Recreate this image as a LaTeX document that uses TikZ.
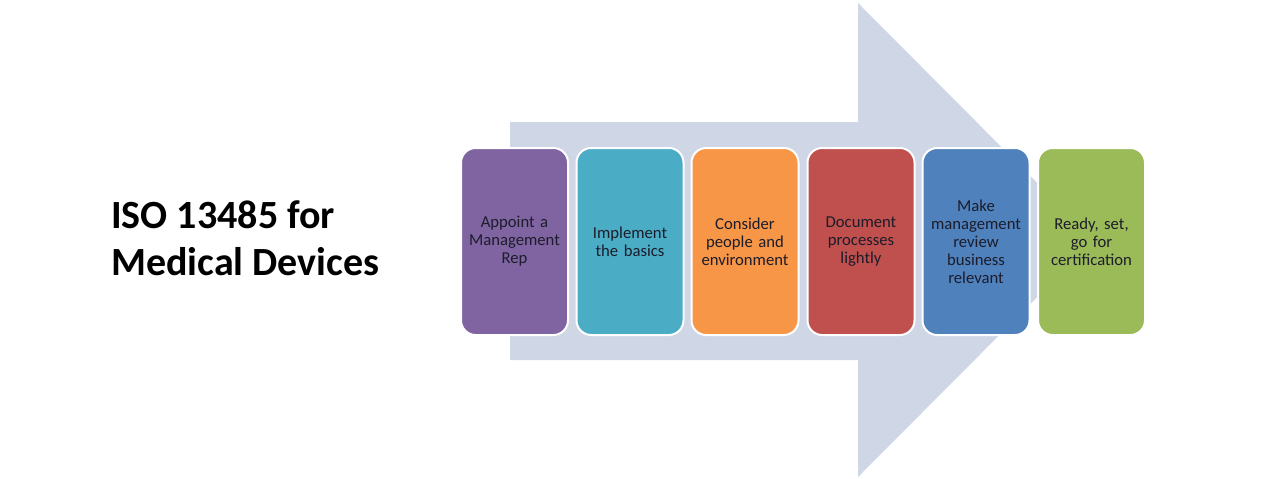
\documentclass[tikz,border=0pt]{standalone}
\usepackage{fontspec}
\setmainfont{Carlito}
\definecolor{arrowc}{HTML}{CFD6E5}
\definecolor{cpurple}{HTML}{8064A2}
\definecolor{cteal}{HTML}{4BACC6}
\definecolor{corange}{HTML}{F79646}
\definecolor{cred}{HTML}{C0504D}
\definecolor{cblue}{HTML}{4F81BD}
\definecolor{cgreen}{HTML}{9BBB59}
\definecolor{ctext}{HTML}{1C1C2A}
\begin{document}
\begin{tikzpicture}[x=0.75pt,y=-0.75pt,
  stepbox/.style={draw=white, line width=1.5pt, rounded corners=11pt,
    minimum width=107*0.75pt, minimum height=187*0.75pt, inner sep=0pt,
    text width=100*0.75pt, align=center, text=ctext,
    font=\fontsize{12.5pt}{13.5pt}\selectfont, anchor=center}]
\useasboundingbox (0,0) rectangle (1280,478);
\fill[white] (0,0) rectangle (1280,478);
% big arrow
\fill[arrowc] (510,122) -- (858,122) -- (858,3) -- (1094,240) -- (858,477) -- (858,360) -- (510,360) -- cycle;
% title
\node[anchor=west, align=left, font=\fontsize{30pt}{35pt}\selectfont\bfseries, text=black, inner sep=0pt] (title) at (111,238) {ISO 13485 for\\Medical Devices};
% steps
\node[stepbox, fill=cpurple] (s1) at (514.5,241.5) {Appoint a\\Management\\Rep};
\node[stepbox, fill=cteal] (s2) at (630,241.5) {Implement\\the basics};
\node[stepbox, fill=corange] (s3) at (745,241.5) {Consider\\people and\\environment};
\node[stepbox, fill=cred] (s4) at (861,241.5) {Document\\processes\\lightly};
\node[stepbox, fill=cblue] (s5) at (976,241.5) {Make\\management\\review\\business\\relevant};
\node[stepbox, fill=cgreen] (s6) at (1091.5,241.5) {Ready, set,\\go for\\certification};
\end{tikzpicture}
\end{document}
